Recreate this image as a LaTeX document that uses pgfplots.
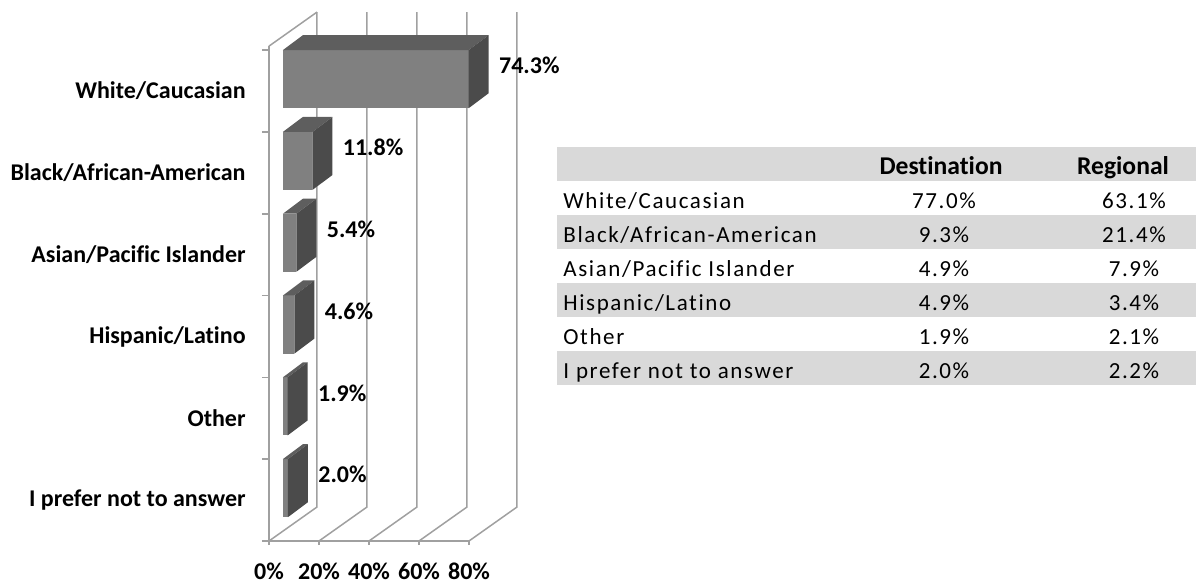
\documentclass[border=0pt]{standalone}
\usepackage{pgfplots}
\pgfplotsset{compat=1.18}
\usepackage{pgfplotstable}
\usepackage{fontspec}
\setmainfont{Carlito}[Ligatures=NoCommon]
\newfontfamily\tabfont{Carlito}[LetterSpace=7, Ligatures=NoCommon]

\definecolor{barfront}{HTML}{808080}
\definecolor{bartop}{HTML}{5E5E5E}
\definecolor{barside}{HTML}{4B4B4B}
\definecolor{wall}{HTML}{A0A0A0}
\definecolor{rowgray}{HTML}{D9D9D9}

% idx = row from the bottom, v = share in percent
\pgfplotstableread{
idx v
5 74.3
4 11.8
3 5.4
2 4.6
1 1.9
0 2.0
}\racedata

\begin{document}
\begin{tikzpicture}
\begin{scope}[x=0.5pt,y=-0.5pt]
  \useasboundingbox (0,0) rectangle (1201,585);
  % table on the right
  \foreach \k in {0,2,4,6}
    \fill[rowgray] (557,{147+34*\k}) rectangle (1196,{181+34*\k});
  \begin{scope}[every node/.style={inner sep=0pt, font=\fontsize{12.8}{14}\selectfont\bfseries}]
    \node[anchor=base] at (941,174.5) {Destination};
    \node[anchor=base] at (1123,174.5) {Regional};
  \end{scope}
  \begin{scope}[every node/.style={inner sep=0pt, font=\tabfont\fontsize{11.5}{13}\selectfont}]
    \node[anchor=base west] at (563,208.5) {White/Caucasian};
    \node[anchor=base west] at (563,242.5) {Black/African-American};
    \node[anchor=base west] at (563,276.5) {Asian/Pacific Islander};
    \node[anchor=base west] at (563,310.5) {Hispanic/Latino};
    \node[anchor=base west] at (563,344.5) {Other};
    \node[anchor=base west] at (563,378.5) {I prefer not to answer};
    \node[anchor=base] at (944,208.5) {77.0\%};
    \node[anchor=base] at (944,242.5) {9.3\%};
    \node[anchor=base] at (944,276.5) {4.9\%};
    \node[anchor=base] at (944,310.5) {4.9\%};
    \node[anchor=base] at (944,344.5) {1.9\%};
    \node[anchor=base] at (944,378.5) {2.0\%};
    \node[anchor=base] at (1134,208.5) {63.1\%};
    \node[anchor=base] at (1134,242.5) {21.4\%};
    \node[anchor=base] at (1134,276.5) {7.9\%};
    \node[anchor=base] at (1134,310.5) {3.4\%};
    \node[anchor=base] at (1134,344.5) {2.1\%};
    \node[anchor=base] at (1134,378.5) {2.2\%};
  \end{scope}
\end{scope}

\begin{axis}[
  at={(134.5pt,-270.5pt)}, anchor=south west,
  x=1.25pt, y=40.9pt,
  xmin=0, xmax=80, ymin=0, ymax=6.05,
  clip=false,
  axis lines*=left,
  axis line style={draw=wall, line width=0.75pt, -},
  xtick={0,20,...,80},
  xticklabel={\pgfmathprintnumber{\tick}\%},
  ytick={0.5,1.5,...,5.5},
  yticklabels={I prefer not to answer, Other, Hispanic/Latino,
    Asian/Pacific Islander, Black/African-American, White/Caucasian},
  minor ytick={0,1,...,6},
  major y tick style={draw=none},
  minor y tick style={draw=wall, line width=0.75pt},
  major x tick style={draw=wall, line width=0.75pt},
  tick align=outside,
  major tick length=2pt,
  minor tick length=3.5pt,
  tick label style={font=\fontsize{12}{14}\selectfont\bfseries},
  xticklabel style={anchor=north, inner sep=0pt, yshift=-8.7pt},
  yticklabel style={anchor=east, inner sep=0pt, xshift=-9.5pt},
  /pgf/number format/assume math mode=true,
]
  % side wall, floor and back grid
  \draw[wall, line width=0.75pt] (axis cs:0,6.05) -- (axis cs:19.2,6.466);
  \draw[wall, line width=0.75pt] (axis cs:0,0) -- (axis cs:19.2,0.4156) -- (axis cs:19.2,6.466);
  \draw[wall, line width=0.75pt] (axis cs:20,0) -- (axis cs:39.2,0.4156) -- (axis cs:39.2,6.466);
  \draw[wall, line width=0.75pt] (axis cs:40,0) -- (axis cs:59.2,0.4156) -- (axis cs:59.2,6.466);
  \draw[wall, line width=0.75pt] (axis cs:60,0) -- (axis cs:79.2,0.4156) -- (axis cs:79.2,6.466);
  \draw[wall, line width=0.75pt] (axis cs:80,0) -- (axis cs:99.2,0.4156) -- (axis cs:99.2,6.466);

  % 3d bars: front, top and side faces
  \pgfplotsforeachungrouped \r in {0,...,5}{
    \pgfplotstablegetelem{\r}{v}\of\racedata \let\v\pgfplotsretval
    \pgfplotstablegetelem{\r}{idx}\of\racedata \let\i\pgfplotsretval
    \pgfmathsetmacro\xa{5.6}
    \pgfmathsetmacro\xb{5.6+\v}
    \pgfmathsetmacro\xc{\xb+8}
    \pgfmathsetmacro\xd{\xa+8}
    \pgfmathsetmacro\ya{\i+0.5+0.147-0.355}
    \pgfmathsetmacro\yb{\i+0.5+0.147+0.355}
    \pgfmathsetmacro\yc{\yb+0.183}
    \pgfmathsetmacro\yd{\ya+0.183}
    \edef\temp{%
      \noexpand\addplot[fill=barfront, draw=none] coordinates {(\xa,\ya) (\xb,\ya) (\xb,\yb) (\xa,\yb)};
      \noexpand\addplot[fill=bartop, draw=none] coordinates {(\xa,\yb) (\xb,\yb) (\xc,\yc) (\xd,\yc)};
      \noexpand\addplot[fill=barside, draw=none] coordinates {(\xb,\ya) (\xc,\yd) (\xc,\yc) (\xb,\yb)};
    }
    \temp
  }

  % value labels
  \addplot[draw=none, point meta=explicit,
    nodes near coords={\pgfmathprintnumber[fixed,fixed zerofill,precision=1]{\pgfplotspointmeta}\%},
    nodes near coords align={anchor=west},
    every node near coord/.append style={inner sep=0pt, black,
      font=\fontsize{12}{14}\selectfont\bfseries}]
    table[x expr=\thisrow{v}+17.6, y expr=\thisrow{idx}+0.81, meta=v] {\racedata};
\end{axis}
\end{tikzpicture}
\end{document}
